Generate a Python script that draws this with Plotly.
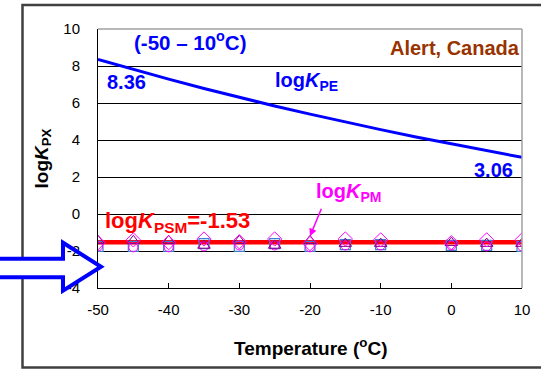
import plotly.graph_objects as go

# ---------------- data ----------------
temp_line = [-50, -45, -40, -35, -30, -25, -20, -15, -10, -5, 0, 5, 10]
logK_PE = [8.36, 7.81, 7.29, 6.78, 6.30, 5.84, 5.40, 4.97, 4.56, 4.16, 3.78, 3.41, 3.06]
logK_PSM = [-1.53] * len(temp_line)

temp_pts = [-50, -45, -40, -35, -30, -25, -20, -15, -10, 0, 5, 10]
s_diamond = [-1.55, -1.40, -1.55, -1.35, -1.50, -1.35, -1.60, -1.35, -1.40, -1.55, -1.40, -1.40]
s_triangle = [-1.45, -1.45, -1.45, -1.70, -1.45, -1.70, -1.45, -1.60, -1.60, -1.55, -1.60, -1.60]
s_square = [-1.75, -1.75, -1.75, -1.60, -1.75, -1.60, -1.75, -1.65, -1.65, -1.70, -1.70, -1.75]
s_circle = [-1.75, -1.80, -1.80, -1.75, -1.70, -1.70, -1.80, -1.70, -1.70, -1.70, -1.75, -1.75]

x_ticks = [-50, -40, -30, -20, -10, 0, 10]
y_ticks = [-4, -2, 0, 2, 4, 6, 8, 10]
x_ticktext = [str(v) for v in x_ticks]
y_ticktext = [str(v) for v in y_ticks]

# ---------------- layout geometry ----------------
W_FIG, H_FIG = 541, 369
L, R, T, B = 98, 522, 29, 288
PW, PH = R - L, B - T


def xp(px):
    return (px - L) / PW


def yp(py):
    return (B - py) / PH


FONT = "Liberation Sans, Arial, sans-serif"
BLUE = "#0000FF"

fig = go.Figure()

fig.add_trace(go.Scatter(x=temp_line, y=logK_PE, mode="lines",
                         line=dict(color=BLUE, width=3), showlegend=False))
fig.add_trace(go.Scatter(x=temp_line, y=logK_PSM, mode="lines",
                         line=dict(color="#FF0000", width=4.5), showlegend=False))

fig.add_trace(go.Scatter(x=temp_pts, y=s_square, mode="markers", showlegend=False,
                         marker=dict(symbol="square-open", size=10, color="#3A7FD0",
                                     line=dict(width=1.2))))
fig.add_trace(go.Scatter(x=temp_pts, y=s_circle, mode="markers", showlegend=False,
                         marker=dict(symbol="circle-open", size=9, color="#FF00FF",
                                     line=dict(width=1))))
fig.add_trace(go.Scatter(x=temp_pts, y=s_triangle, mode="markers", showlegend=False,
                         marker=dict(symbol="triangle-up-open", size=11, color="#800080",
                                     line=dict(width=1))))
fig.add_trace(go.Scatter(x=temp_pts, y=s_diamond, mode="markers", showlegend=False,
                         marker=dict(symbol="diamond-open", size=11, color="#FF00FF",
                                     line=dict(width=1))))

# ---------------- shapes ----------------
shapes = []
# outer frame
shapes.append(dict(type="rect", xref="paper", yref="paper",
                   x0=xp(22.5), x1=xp(560), y0=yp(367.5), y1=yp(5),
                   line=dict(color="#404040", width=2.5), layer="below"))
# gray top / right plot border
shapes.append(dict(type="line", xref="paper", yref="paper", x0=0, x1=1, y0=1, y1=1,
                   line=dict(color="#A0A0A0", width=1.5), layer="above"))
shapes.append(dict(type="line", xref="paper", yref="paper", x0=1, x1=1, y0=0, y1=1,
                   line=dict(color="#A0A0A0", width=1.5), layer="above"))
# white interior of the arrow shaft (hides the frame line)
shapes.append(dict(type="rect", xref="paper", yref="paper",
                   x0=xp(-6), x1=xp(63), y0=yp(277.3), y1=yp(258.7),
                   line=dict(width=0), fillcolor="white", layer="above"))
# hollow blue block arrow outline
pts = [(-6, 258.7), (63, 258.7), (63, 242.7), (101, 266.7), (63, 290.7), (63, 277.3), (-6, 277.3)]
path = "M " + " L ".join(f"{xp(a):.5f},{yp(b):.5f}" for a, b in pts)
shapes.append(dict(type="path", xref="paper", yref="paper", path=path,
                   line=dict(color=BLUE, width=4), fillcolor="rgba(0,0,0,0)",
                   layer="above"))

# ---------------- annotations ----------------
def txt(text, px, py, size=20, color="black", xanchor="left", yanchor="middle", **kw):
    return dict(text=text, x=xp(px), y=yp(py), xref="paper", yref="paper",
                showarrow=False, xanchor=xanchor, yanchor=yanchor,
                font=dict(family=FONT, size=size, color=color), **kw)


annotations = [
    txt("<b>(-50 – 10<sup>o</sup>C)</b>", 190, 41, size=20.5, color=BLUE, xanchor="center"),
    txt("<b>Alert, Canada</b>", 522, 48, color="#993300", xanchor="right"),
    txt("<b>8.36</b>", 105, 82, color=BLUE),
    txt("<b>log<i>K</i><sub>PE</sub></b>", 273, 81, color=BLUE),
    txt("<b>3.06</b>", 472, 170, color=BLUE),
    txt("<b>log<i>K</i><sub>PM</sub></b>", 314, 192, color="#FF00FF"),
    txt("<b>log<i>K</i><sub>PSM</sub>=-1.53</b>", 103, 222, size=22, color="#FF0000"),
    txt("<b>Temperature (<sup>o</sup>C)</b>", 310, 347, size=19, xanchor="center"),
    txt("<b>log<i>K</i><sub>PX</sub></b>", 42, 158.5, size=19, xanchor="center",
        textangle=-90),
    dict(x=-20, y=-1.2, xref="x", yref="y", text="", showarrow=True,
         ax=12, ay=-29, arrowhead=2, arrowsize=1, arrowwidth=1.5,
         arrowcolor="#FF00FF"),
]

fig.update_layout(
    width=W_FIG, height=H_FIG,
    margin=dict(l=L, r=W_FIG - R, t=T, b=H_FIG - B, pad=0),
    paper_bgcolor="white", plot_bgcolor="white",
    font=dict(family=FONT, size=15, color="black"),
    shapes=shapes, annotations=annotations,
    xaxis=dict(range=[-50, 10], tickvals=x_ticks, ticktext=x_ticktext,
               ticks="inside", ticklen=5,
               tickcolor="black", showline=True, linecolor="black", linewidth=1,
               showgrid=False, zeroline=False, ticklabelstandoff=8,
               tickfont=dict(family=FONT, size=15, color="black")),
    yaxis=dict(range=[-4, 10], tickvals=y_ticks, ticktext=y_ticktext, ticks="",
               showline=True,
               linecolor="black", linewidth=1, showgrid=True, gridcolor="black",
               gridwidth=1, zeroline=False, ticklabelstandoff=14,
               tickfont=dict(family=FONT, size=15, color="black")),
)

fig.write_html("out.html")
